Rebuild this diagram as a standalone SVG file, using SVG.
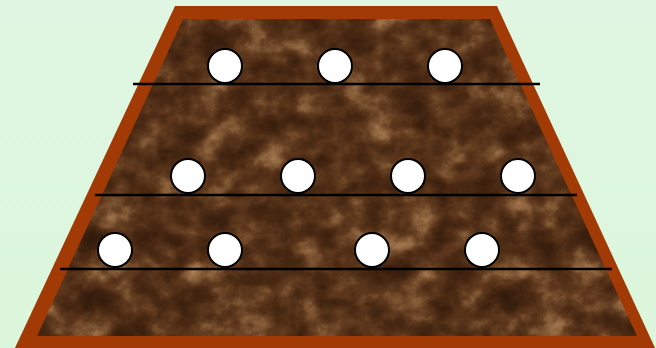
<svg xmlns="http://www.w3.org/2000/svg" width="656" height="348" viewBox="0 0 656 348">
  <style>
    .peg { fill: #ffffff; stroke: #000000; stroke-width: 2; }
    .rail { stroke: #000000; stroke-width: 2.5; fill: none; }
  </style>
  <defs>
    <linearGradient id="bg" x1="0" y1="0" x2="0" y2="1">
      <stop offset="0" stop-color="#e0f6e2"/>
      <stop offset="1" stop-color="#dcf7dc"/>
    </linearGradient>
    <filter id="marble" x="0" y="0" width="1" height="1" filterUnits="objectBoundingBox" color-interpolation-filters="sRGB">
      <feTurbulence type="fractalNoise" baseFrequency="0.03 0.035" numOctaves="6" seed="11" result="n"/>
      <feColorMatrix in="n" type="matrix" values="0.6 0.4 0 0 0  0.6 0.4 0 0 0  0.6 0.4 0 0 0  0 0 0 0 1" result="g"/>
      <feComponentTransfer in="g">
        <feFuncR type="table" tableValues="0.16 0.18 0.2 0.24 0.3 0.38 0.52 0.66 0.74 0.8"/>
        <feFuncG type="table" tableValues="0.09 0.1 0.11 0.13 0.17 0.23 0.36 0.48 0.56 0.62"/>
        <feFuncB type="table" tableValues="0.04 0.05 0.05 0.06 0.08 0.12 0.22 0.32 0.4 0.46"/>
      </feComponentTransfer>
    </filter>
    <clipPath id="inner">
      <polygon points="183,19 490,19 637,336 37,336"/>
    </clipPath>
  </defs>
  <rect x="0" y="0" width="656" height="348" fill="url(#bg)"/>
  <g id="board">
    <polygon points="175,6 497,6 656,350 14,350" fill="#a23a06"/>
    <g clip-path="url(#inner)">
      <rect x="30" y="15" width="615" height="325" fill="#5a3a25" filter="url(#marble)"/>
    </g>
  </g>
  <g id="rails">
    <line class="rail" x1="133" y1="84" x2="540" y2="84"/>
    <line class="rail" x1="95" y1="195" x2="577" y2="195"/>
    <line class="rail" x1="60" y1="269" x2="612" y2="269"/>
  </g>
  <g id="row1">
    <circle class="peg" cx="225" cy="66" r="17"/>
    <circle class="peg" cx="335" cy="66" r="17"/>
    <circle class="peg" cx="445" cy="66" r="17"/>
  </g>
  <g id="row2">
    <circle class="peg" cx="188" cy="176" r="17"/>
    <circle class="peg" cx="298" cy="176" r="17"/>
    <circle class="peg" cx="408" cy="176" r="17"/>
    <circle class="peg" cx="518" cy="176" r="17"/>
  </g>
  <g id="row3">
    <circle class="peg" cx="115" cy="250" r="17"/>
    <circle class="peg" cx="225" cy="250" r="17"/>
    <circle class="peg" cx="372" cy="250" r="17"/>
    <circle class="peg" cx="482" cy="250" r="17"/>
  </g>
</svg>
